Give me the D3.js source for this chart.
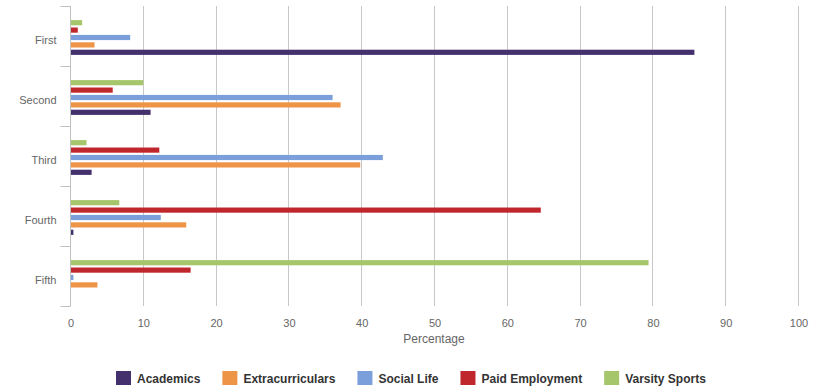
<!DOCTYPE html>
<html>
<head>
<meta charset="utf-8">
<script src="https://cdn.jsdelivr.net/npm/d3@7"></script>
<style>
  body { margin: 0; background: #fff; }
  svg { font-family: "Liberation Sans", Arial, sans-serif; display: block; }
</style>
</head>
<body>
<svg width="822" height="392"></svg>
<script>
var categories = ["First", "Second", "Third", "Fourth", "Fifth"];
var seriesNames = ["Academics", "Extracurriculars", "Social Life", "Paid Employment", "Varsity Sports"];
var academics = [85.7, 11.0, 2.9, 0.4, 0];
var extracurriculars = [3.3, 37.1, 39.8, 15.9, 3.7];
var socialLife = [8.2, 36.0, 42.9, 12.4, 0.4];
var paidEmployment = [1.0, 5.8, 12.2, 64.6, 16.5];
var varsitySports = [1.6, 10.0, 2.2, 6.7, 79.4];
var xTicks = [0, 10, 20, 30, 40, 50, 60, 70, 80, 90, 100];

var colors = ["#45306e", "#ee9447", "#7b9fdb", "#c0272d", "#a6c66c"];
var seriesValues = [academics, extracurriculars, socialLife, paidEmployment, varsitySports];

var svg = d3.select("svg");

var x = d3.scaleLinear().domain([0, 100]).range([70, 798]);
var y = d3.scaleBand().domain(categories).range([6, 306]);
// top to bottom inside each group: last series first
var inner = d3.scaleBand()
  .domain(seriesNames.slice().reverse())
  .range([13, 50])
  .paddingInner(0.3)
  .paddingOuter(0.15);

// vertical grid lines
svg.append("g")
  .selectAll("line")
  .data(xTicks.slice(1))
  .join("line")
  .attr("x1", function (d) { return Math.round(x(d)) + 0.5; })
  .attr("x2", function (d) { return Math.round(x(d)) + 0.5; })
  .attr("y1", 6)
  .attr("y2", 306)
  .attr("stroke", "#c8c8c8")
  .attr("stroke-width", 1);

// bars
seriesNames.forEach(function (name, i) {
  svg.append("g")
    .attr("fill", colors[i])
    .selectAll("rect")
    .data(seriesValues[i])
    .join("rect")
    .attr("x", x(0) + 0.5)
    .attr("y", function (d, j) { return y(categories[j]) + inner(name); })
    .attr("width", function (d) { return Math.max(0, x(d) - x(0)); })
    .attr("height", inner.bandwidth());
});

// left category axis
var yAxis = svg.append("g").attr("transform", "translate(70.5,0)");
yAxis.append("line")
  .attr("y1", 6).attr("y2", 306.5)
  .attr("stroke", "#c0c0c0");
yAxis.selectAll(".tick")
  .data(categories.concat([null]))
  .join("line")
  .attr("x1", -10).attr("x2", 0)
  .attr("y1", function (d, i) { return 6.5 + i * y.step(); })
  .attr("y2", function (d, i) { return 6.5 + i * y.step(); })
  .attr("stroke", "#c0c0c0");
yAxis.selectAll("text")
  .data(categories)
  .join("text")
  .attr("x", -14)
  .attr("y", function (d) { return y(d) + y.bandwidth() / 2 + 4; })
  .attr("dy", "0.35em")
  .attr("text-anchor", "end")
  .attr("font-size", 11)
  .attr("fill", "#666")
  .text(function (d) { return d; });

// bottom value labels
svg.append("g")
  .selectAll("text")
  .data(xTicks)
  .join("text")
  .attr("x", function (d) { return x(d) + 1; })
  .attr("y", 327)
  .attr("text-anchor", "middle")
  .attr("font-size", 11)
  .attr("fill", "#666")
  .text(function (d) { return d; });

svg.append("text")
  .attr("x", (x(0) + x(100)) / 2)
  .attr("y", 343)
  .attr("text-anchor", "middle")
  .attr("font-size", 12)
  .attr("fill", "#666")
  .text("Percentage");

// legend
var legend = svg.append("g");
var cursor = 0;
seriesNames.forEach(function (name, i) {
  var item = legend.append("g").attr("transform", "translate(" + cursor + ",0)");
  item.append("rect")
    .attr("x", 0).attr("y", 371)
    .attr("width", 15).attr("height", 14)
    .attr("fill", colors[i]);
  var t = item.append("text")
    .attr("x", 21).attr("y", 382.5)
    .attr("font-size", 12)
    .attr("font-weight", "bold")
    .attr("fill", "#333")
    .text(name);
  cursor += 21 + t.node().getComputedTextLength() + 22;
});
var legendWidth = cursor - 22;
legend.attr("transform", "translate(" + Math.round((822 - legendWidth) / 2) + ",0)");
</script>
</body>
</html>
